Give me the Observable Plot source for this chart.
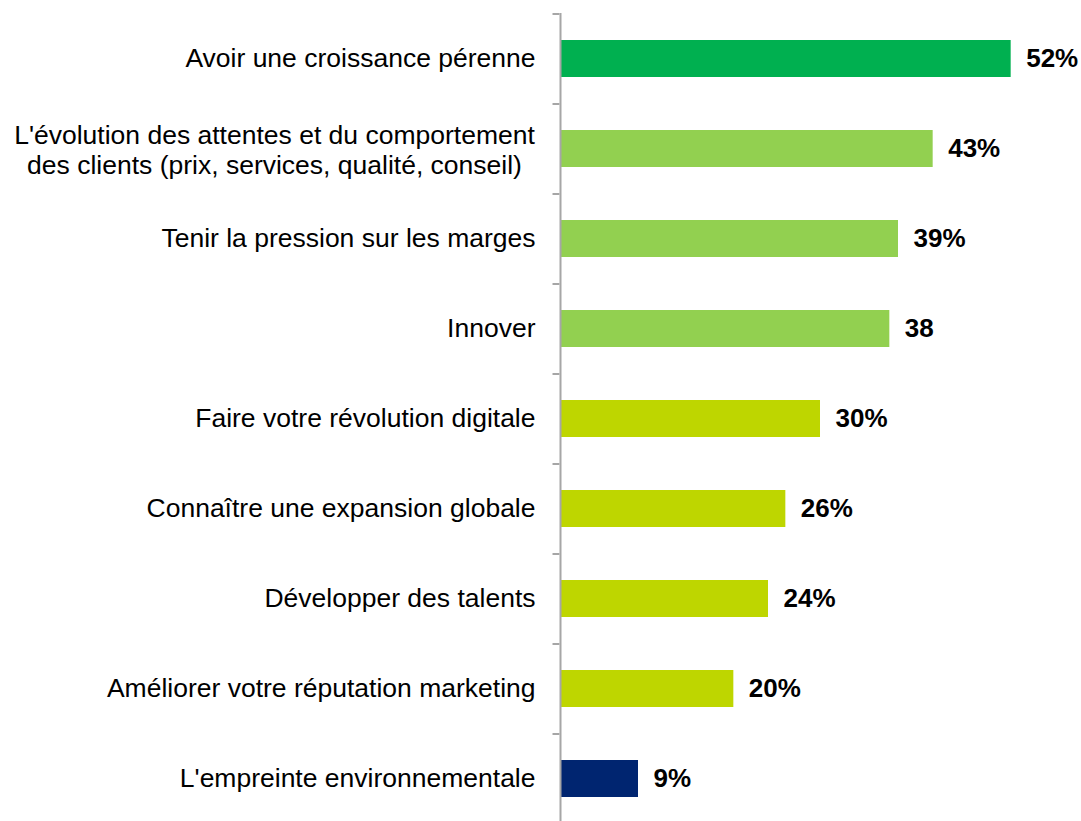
<!DOCTYPE html>
<html>
<head>
<meta charset="utf-8">
<script src="https://cdn.jsdelivr.net/npm/d3@7"></script>
<script src="https://cdn.jsdelivr.net/npm/@observablehq/plot@0.6"></script>
<style>
  html, body { margin: 0; padding: 0; background: #fff; }
</style>
</head>
<body>
<div id="chart"></div>
<script>
const categories = [
  "Avoir une croissance pérenne",
  "L'évolution des attentes et du comportement\ndes clients (prix, services, qualité, conseil)",
  "Tenir la pression sur les marges",
  "Innover",
  "Faire votre révolution digitale",
  "Connaître une expansion globale",
  "Développer des talents",
  "Améliorer votre réputation marketing",
  "L'empreinte environnementale"
];
const values = [52, 43, 39, 38, 30, 26, 24, 20, 9];
const valueLabels = ["52%", "43%", "39%", "38", "30%", "26%", "24%", "20%", "9%"];
const barColors = ["#00B050", "#92D050", "#92D050", "#92D050", "#BED600", "#BED600", "#BED600", "#BED600", "#002570"];

const data = categories.map((c, i) => ({cat: c, value: values[i], label: valueLabels[i], color: barColors[i]}));
const singleLine = categories.filter(c => !c.includes("\n"));
const multiLine = categories.filter(c => c.includes("\n"));

const axisGray = "#A6A6A6";

const chart = Plot.plot({
  width: 1081,
  height: 821,
  marginLeft: 560,
  marginRight: 1,
  marginTop: 13,
  marginBottom: 0,
  style: {fontFamily: "'Liberation Sans', Arial, sans-serif", fontSize: "26.5px", color: "#000", background: "#fff"},
  x: {domain: [0, 60], axis: null},
  y: {domain: categories, range: [13, 823], paddingInner: 0.59, paddingOuter: 0.295, axis: null},
  color: {type: "identity"},
  marks: [
    Plot.barX(data, {x: "value", y: "cat", fill: "color"}),
    Plot.ruleX([0], {stroke: axisGray, strokeWidth: 2}),
    Plot.ruleY(categories, {y: d => d, x1: 0, x2: 0.8, dx: -7.5, dy: -45, stroke: axisGray, strokeWidth: 2}),
    Plot.text(singleLine, {x: 0, y: d => d, text: d => d, dx: -25, textAnchor: "end", fontSize: 26.5, fill: "#000"}),
    Plot.text(multiLine, {x: 0, y: d => d, text: d => d, dx: -286, textAnchor: "middle", lineHeight: 1.13, fontSize: 26.5, fill: "#000"}),
    Plot.text(data, {x: "value", y: "cat", text: "label", dx: 15, textAnchor: "start", fontWeight: "bold", fontSize: 26, fill: "#000"})
  ]
});
document.getElementById("chart").appendChild(chart);
</script>
</body>
</html>
